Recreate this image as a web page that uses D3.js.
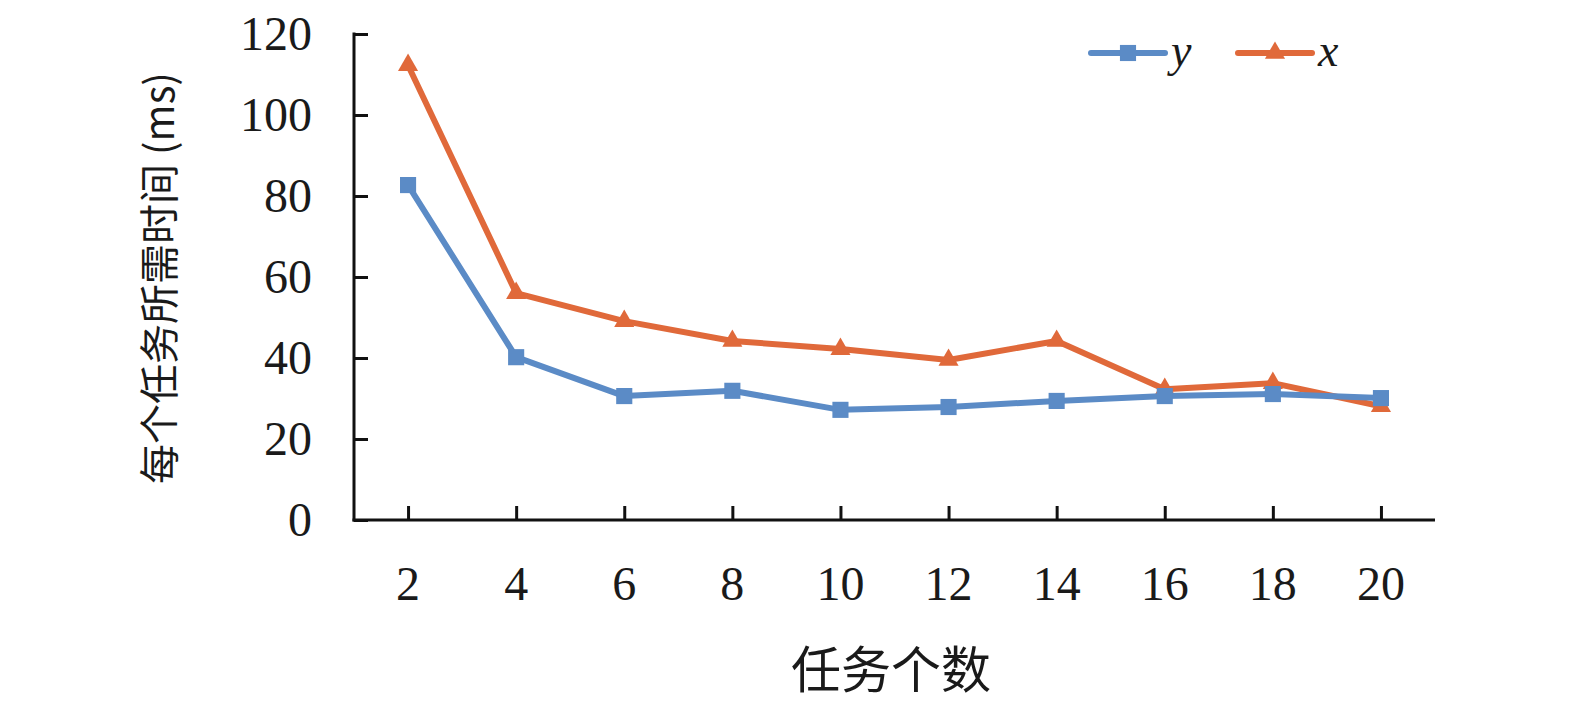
<!DOCTYPE html>
<html>
<head>
<meta charset="utf-8">
<script src="https://cdn.jsdelivr.net/npm/d3@7"></script>
<style>
  body { margin: 0; background: #fff; }
  text { fill: #1a1a1a; }
</style>
</head>
<body>
<div id="chart"></div>
<script>
// data
const taskCounts = [2, 4, 6, 8, 10, 12, 14, 16, 18, 20];
const ySeries = [82.7, 40.2, 30.6, 31.9, 27.2, 27.9, 29.4, 30.6, 31.1, 30.1];
const xSeries = [112.3, 56.0, 49.1, 44.2, 42.2, 39.5, 44.2, 32.3, 33.8, 28.1];
const yTicks = [0, 20, 40, 60, 80, 100, 120];
const seriesNames = ["y", "x"];

const W = 1575, H = 701;
const plotL = 354, plotR = 1435, plotT = 34, plotB = 520;
const blue = "#5b8bc6", orange = "#e0693a";
const serif = "'Liberation Serif', 'Times New Roman', serif";
const cjk = "'Noto Sans CJK SC', sans-serif";

const svg = d3.select("#chart").append("svg")
  .attr("width", W)
  .attr("height", H);

const x = d3.scalePoint()
  .domain(taskCounts)
  .range([plotL, plotR])
  .padding(0.5);

const y = d3.scaleLinear()
  .domain([0, 120])
  .range([plotB, plotT]);

// y axis, ticks point inward
const yAxis = svg.append("g")
  .attr("transform", `translate(${plotL},0)`)
  .call(d3.axisRight(y).tickValues(yTicks).tickSize(14).tickFormat(() => ""));
yAxis.select(".domain").remove();
yAxis.selectAll(".tick line").attr("stroke", "#111").attr("stroke-width", 3);
svg.append("line")
  .attr("x1", plotL).attr("x2", plotL)
  .attr("y1", plotT - 1.5).attr("y2", plotB + 1.5)
  .attr("stroke", "#111").attr("stroke-width", 3);

svg.selectAll(".ylab")
  .data(yTicks)
  .enter()
  .append("text")
  .attr("x", 312)
  .attr("y", d => y(d) + 16)
  .attr("text-anchor", "end")
  .style("font-family", serif)
  .style("font-size", "48px")
  .text(d => d);

// x axis
const xAxis = svg.append("g")
  .attr("transform", `translate(0,${plotB})`)
  .call(d3.axisTop(x).tickSize(14).tickFormat(() => ""));
xAxis.select(".domain").remove();
xAxis.selectAll(".tick line").attr("stroke", "#111").attr("stroke-width", 3);
svg.append("line")
  .attr("x1", plotL - 1.5).attr("x2", plotR)
  .attr("y1", plotB).attr("y2", plotB)
  .attr("stroke", "#111").attr("stroke-width", 3);

svg.selectAll(".xlab")
  .data(taskCounts)
  .enter()
  .append("text")
  .attr("x", d => x(d))
  .attr("y", 600)
  .attr("text-anchor", "middle")
  .style("font-family", serif)
  .style("font-size", "48px")
  .text(d => d);

// axis titles
svg.append("text")
  .attr("x", 891)
  .attr("y", 688)
  .attr("text-anchor", "middle")
  .style("font-family", cjk)
  .style("font-size", "50px")
  .text("任务个数");

svg.append("text")
  .attr("transform", "translate(174,278) rotate(-90)")
  .attr("text-anchor", "middle")
  .style("font-family", cjk)
  .style("font-size", "40px")
  .text("每个任务所需时间 (ms)");

// lines
const line = d3.line()
  .x((d, i) => x(taskCounts[i]))
  .y(d => y(d));

const sym = {
  y: d3.symbol().type(d3.symbolSquare).size(260),
  x: d3.symbol().type(d3.symbolTriangle).size(175)
};

[[xSeries, orange, "x"], [ySeries, blue, "y"]].forEach(([vals, col, name]) => {
  svg.append("path")
    .datum(vals)
    .attr("d", line)
    .attr("fill", "none")
    .attr("stroke", col)
    .attr("stroke-width", 6)
    .attr("stroke-linejoin", "round");
  svg.selectAll(".m" + name)
    .data(vals)
    .enter()
    .append("path")
    .attr("d", sym[name])
    .attr("transform", (d, i) => `translate(${x(taskCounts[i])},${y(d)})`)
    .attr("fill", col);
});

// legend
const legend = svg.append("g");
const legendX = [1091, 1238];
seriesNames.forEach((name, i) => {
  const col = name === "y" ? blue : orange;
  const g = legend.append("g").attr("transform", `translate(${legendX[i]},53)`);
  g.append("line")
    .attr("x1", 0).attr("x2", 74)
    .attr("stroke", col).attr("stroke-width", 6)
    .attr("stroke-linecap", "round");
  g.append("path")
    .attr("d", sym[name])
    .attr("transform", "translate(37,0)")
    .attr("fill", col);
  g.append("text")
    .attr("x", 80)
    .attr("y", 13)
    .style("font-family", serif)
    .style("font-style", "italic")
    .style("font-size", "46px")
    .text(name);
});
</script>
</body>
</html>
